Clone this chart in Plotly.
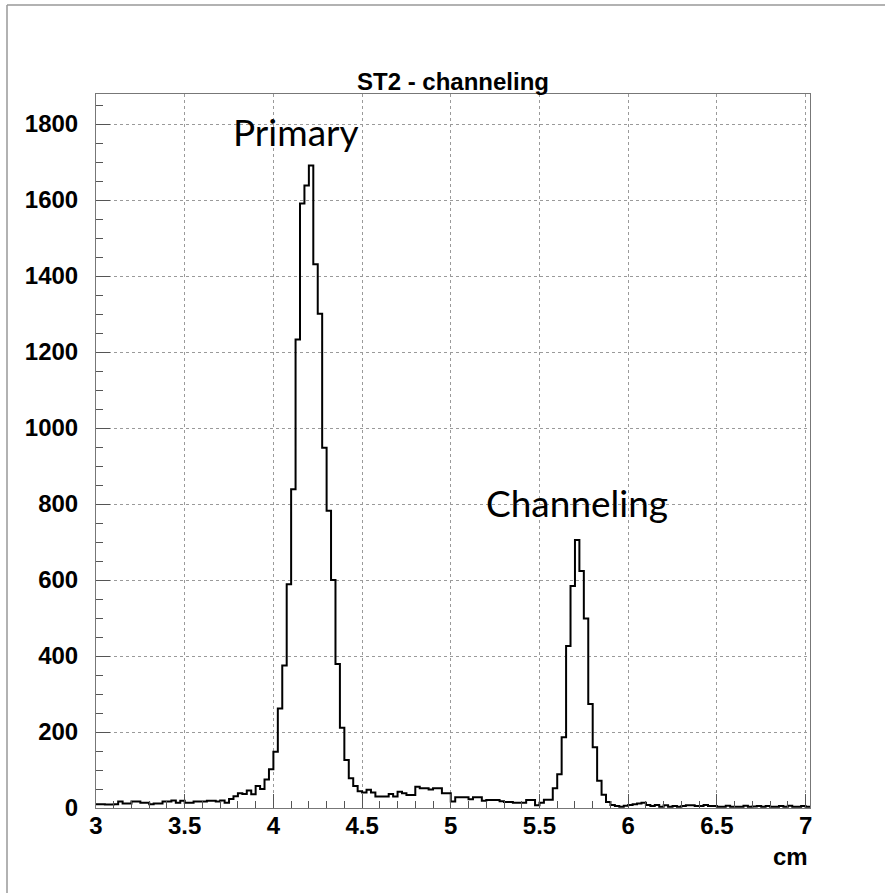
import numpy as np
import plotly.graph_objects as go

# Histogram binning (cm)
x_min = 3.0
bin_width = 0.025

# Counts per bin, left to right
counts = [
    10, 10, 9, 9, 10,
    17, 12, 12, 17, 17,
    14, 14, 10, 12, 12,
    17, 17, 20, 14, 19,
    14, 14, 17, 17, 17,
    19, 19, 17, 20, 14,
    24, 31, 39, 37, 46,
    36, 58, 50, 75, 102,
    148, 262, 375, 589, 839,
    1233, 1591, 1638, 1691, 1431,
    1301, 948, 782, 600, 379,
    211, 126, 78, 58, 44,
    41, 48, 41, 30, 30,
    30, 37, 30, 43, 39,
    34, 34, 56, 52, 52,
    49, 52, 52, 39, 39,
    17, 28, 28, 28, 23,
    28, 28, 19, 21, 21,
    21, 18, 16, 16, 14,
    14, 14, 21, 21, 7,
    14, 22, 22, 52, 89,
    186, 426, 584, 705, 624,
    499, 274, 160, 72, 35,
    16, 8, 5, 3, 6,
    8, 10, 12, 14, 8,
    5, 8, 3, 7, 3,
    5, 3, 5, 7, 7,
    5, 5, 8, 5, 5,
    3, 3, 6, 3, 3,
    3, 6, 3, 4, 5,
    3, 5, 3, 3, 5,
    3, 6, 3, 3, 5, 3,
]

x_ticks = [3, 3.5, 4, 4.5, 5, 5.5, 6, 6.5, 7]
x_tick_text = ["3", "3.5", "4", "4.5", "5", "5.5", "6", "6.5", "7"]
y_ticks = [0, 200, 400, 600, 800, 1000, 1200, 1400, 1600, 1800]

title_text = "ST2 - channeling"
x_title = "cm"
peak_labels = ["Primary", "Channeling"]
peak_label_x = [4.13, 5.71]
peak_label_y = [1780, 805]

n_bins = len(counts)
edges = np.round(x_min + bin_width * np.arange(n_bins + 1), 4)
x_max = edges[-1]
step_y = counts + [counts[-1]]

fig = go.Figure()
fig.add_trace(go.Scatter(
    x=edges, y=step_y, mode="lines",
    line=dict(shape="hv", color="black", width=2),
    showlegend=False, hoverinfo="skip",
))

tick_font = dict(family="Liberation Sans, Arial, sans-serif", size=24,
                 color="black", weight="bold")
frame_color = "#777777"
grid_color = "#9a9a9a"

fig.update_xaxes(
    range=[x_min, x_max], tickvals=x_ticks, ticktext=x_tick_text,
    ticks="inside", ticklen=14, tickcolor="#555555", tickwidth=1,
    minor=dict(dtick=0.1, tick0=3, ticks="inside", ticklen=7,
               tickcolor="#555555", showgrid=False),
    showgrid=True, gridcolor=grid_color, griddash="dot", gridwidth=1,
    showline=True, linecolor=frame_color, linewidth=1, mirror=True,
    tickfont=tick_font, zeroline=False, ticklabelstandoff=-4,
)
fig.update_yaxes(
    range=[0, 1879], tickvals=y_ticks,
    ticks="inside", ticklen=14, tickcolor="#555555", tickwidth=1,
    minor=dict(dtick=50, tick0=0, ticks="inside", ticklen=7,
               tickcolor="#555555", showgrid=False),
    showgrid=True, gridcolor=grid_color, griddash="dot", gridwidth=1,
    showline=True, linecolor=frame_color, linewidth=1, mirror=True,
    tickfont=tick_font, zeroline=False, ticklabelstandoff=12,
)

annotations = [
    dict(text=title_text, x=0.5, xref="paper", y=1.0, yref="paper",
         yanchor="bottom", yshift=-3, showarrow=False,
         font=dict(family="Liberation Sans, Arial, sans-serif", size=24,
                   color="black", weight="bold")),
    dict(text=x_title, x=1.0, xref="paper", xanchor="right",
         y=0, yref="paper", yanchor="top", yshift=-33, showarrow=False,
         font=dict(family="Liberation Sans, Arial, sans-serif", size=24,
                   color="black", weight="bold")),
]
for txt, lx, ly in zip(peak_labels, peak_label_x, peak_label_y):
    annotations.append(dict(
        text=txt, x=lx, y=ly, xref="x", yref="y", showarrow=False,
        xanchor="center", yanchor="middle",
        font=dict(family="Lato, sans-serif", size=37, color="black"),
    ))

# Thin canvas border along the top and left of the page
border = dict(color="#999999", width=1.5)
shapes = [
    dict(type="line", xref="paper", yref="paper",
         x0=-89 / 714, x1=789 / 714, y0=803 / 714, y1=803 / 714, line=border),
    dict(type="line", xref="paper", yref="paper",
         x0=-89 / 714, x1=-89 / 714, y0=803 / 714, y1=-85 / 714, line=border),
]

fig.update_layout(
    width=885, height=893,
    margin=dict(l=96, r=75, t=94, b=85),
    paper_bgcolor="white", plot_bgcolor="white",
    annotations=annotations, shapes=shapes,
)

fig.write_html("out.html")
